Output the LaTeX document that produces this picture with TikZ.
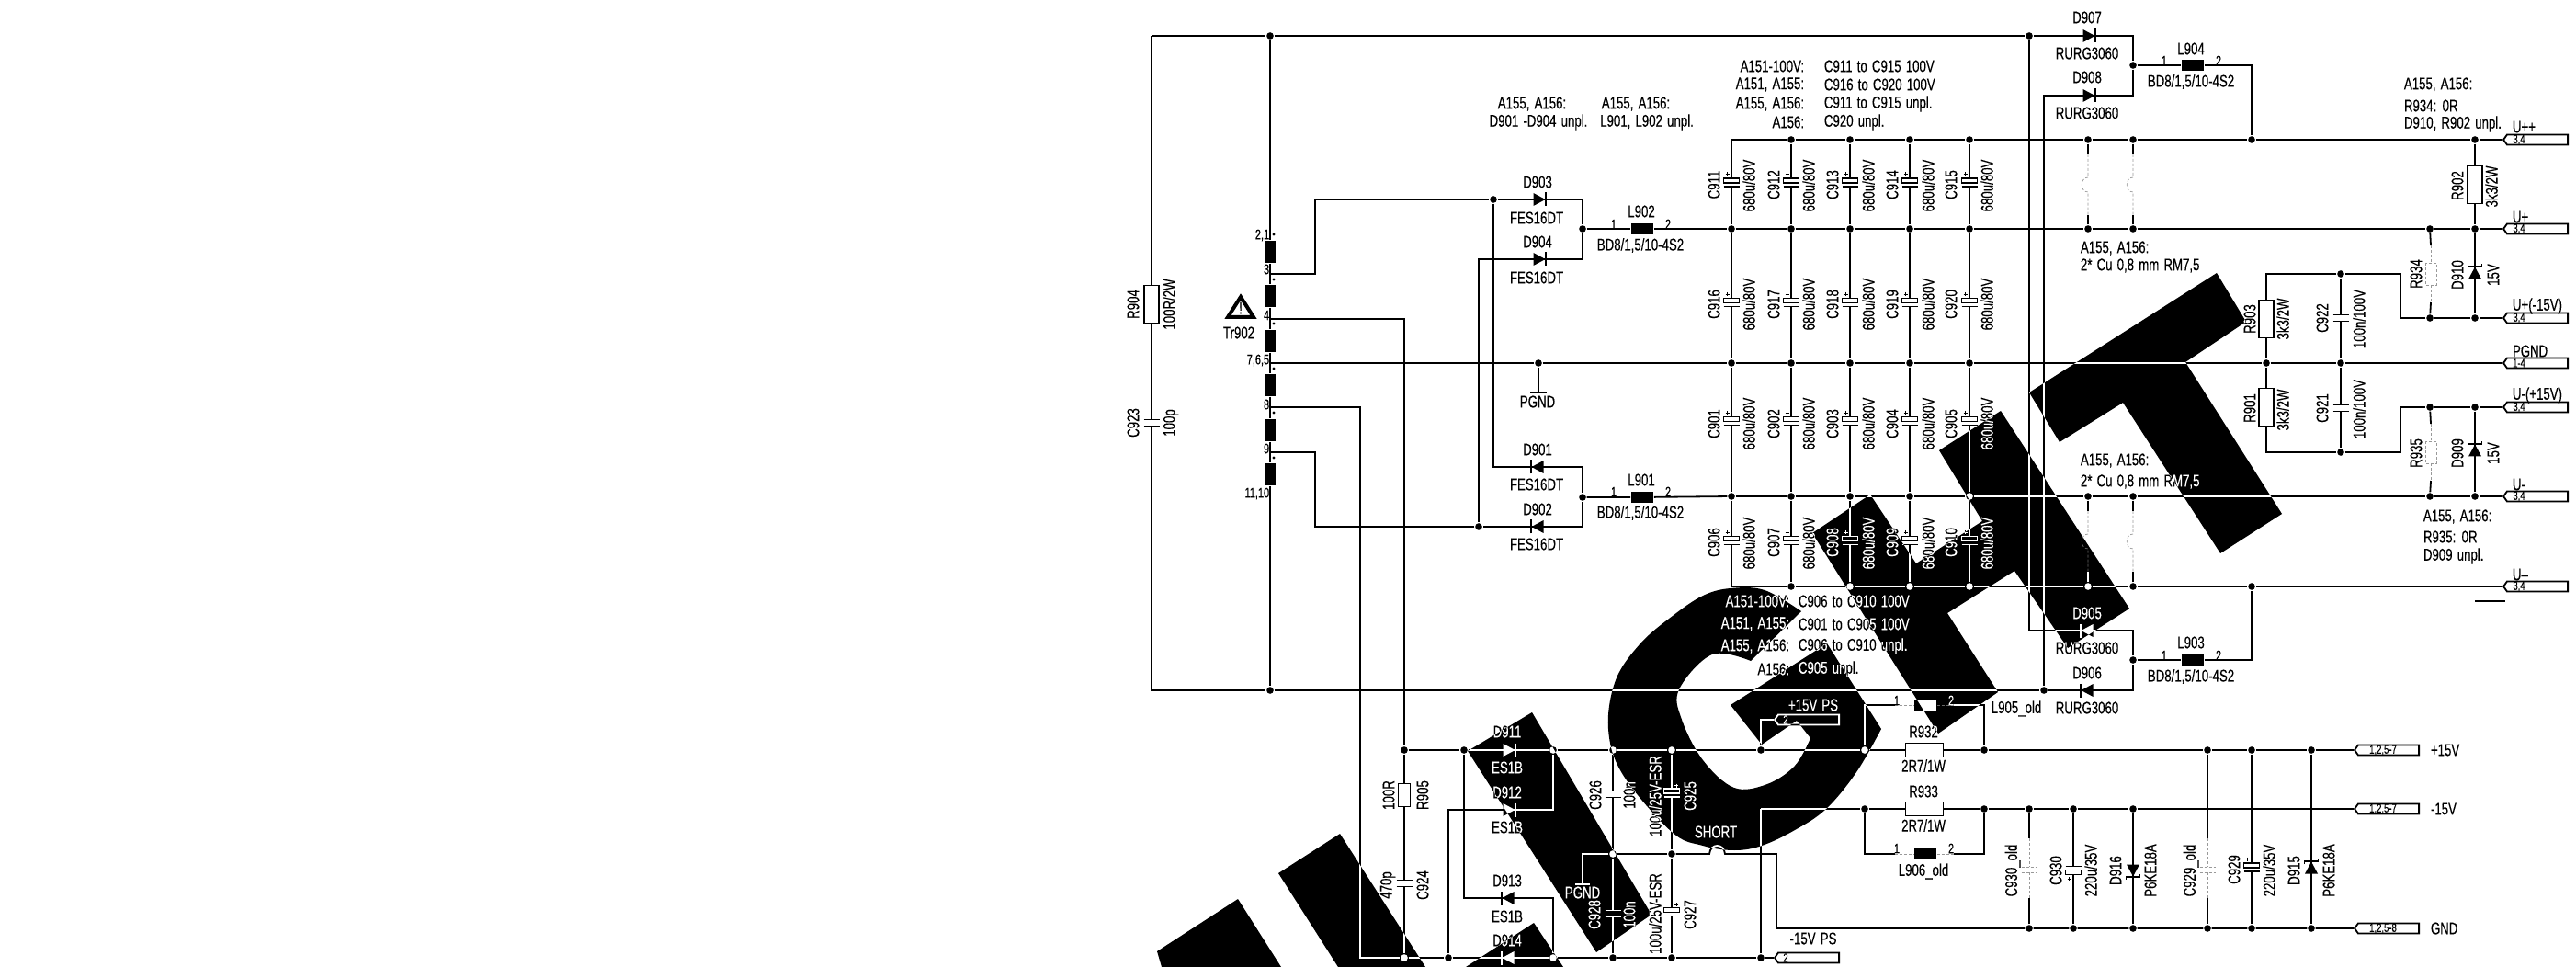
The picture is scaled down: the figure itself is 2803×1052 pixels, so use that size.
\documentclass[tikz,border=0pt]{standalone}
\usepackage{fontspec}
\setmainfont[FakeStretch=0.72,WordSpace=1.4,FakeBold=0.2]{Liberation Sans}
\usetikzlibrary{shapes.symbols}
\newcommand{\lblfont}{\fontsize{9.2}{10}\selectfont}
\newcommand{\numfont}{\fontsize{7.6}{8}\selectfont}
\newcommand{\pinfont}{\fontsize{6.6}{7}\selectfont}
\definecolor{pGhost}{gray}{0.6}
\tikzset{
    dot/.style={circle, fill=black, inner sep=0pt, minimum size=3.8pt},
    wdot/.style={circle, fill=black, inner sep=0pt, minimum size=1.6pt},
    lbl/.style={font=\lblfont, inner sep=0pt},
    lblv/.style={lbl, rotate=90},
    num/.style={font=\numfont, inner sep=0pt},
    pinl/.style={font=\pinfont, inner sep=0pt},
    resv/.style={rectangle, draw, fill=white, inner sep=0pt, minimum width=8pt, minimum height=20.5pt},
    resh/.style={rectangle, draw, fill=white, inner sep=0pt, minimum width=20.5pt, minimum height=7.5pt},
    ress/.style={rectangle, draw, fill=white, inner sep=0pt, minimum width=6.5pt, minimum height=12.5pt},
    ind/.style={rectangle, fill=black, inner sep=0pt, minimum width=12pt, minimum height=6pt},
    wnd/.style={rectangle, fill=black, inner sep=0pt, minimum width=6pt, minimum height=12pt},
    port/.style={signal, signal to=west, signal pointer angle=110, draw, fill=white, inner sep=0pt, minimum width=35pt, minimum height=5.5pt},
    ghost/.style={pGhost, line width=0.35pt, dash pattern=on 1.5pt off 1pt},
    diode/.pic={\fill (-6.5,-7)--(6.5,0)--(-6.5,7)--cycle; \draw (7,-7.5)--(7,7.5);},
    zener/.pic={\fill (-6.5,-7)--(6.5,0)--(-6.5,7)--cycle; \draw (4,-7.5)--(7,-7.5)--(7,7.5)--(10,7.5);},
    capn/.pic={\fill[white] (-8.5,-3.5) rectangle (8.5,3.5); \draw (-8.5,-3.5)--(8.5,-3.5) (-8.5,3.5)--(8.5,3.5);},
    capel/.pic={\fill[white] (-8.5,-4.5) rectangle (8.5,4.5); \draw[fill=white] (-8.5,-4.5) rectangle (8.5,0.5); \draw (-8.5,4.5)--(8.5,4.5); \draw[line width=0.4pt] (-6.5,-9)--(-2.5,-9) (-4.5,-11)--(-4.5,-7);},
    capelr/.pic={\fill[white] (-8.5,-4.5) rectangle (8.5,4.5); \draw[fill=white] (-8.5,-4.5) rectangle (8.5,0.5); \draw (-8.5,4.5)--(8.5,4.5); \draw[line width=0.4pt] (3,-8)--(7,-8) (5,-10)--(5,-6);},
    capelb/.pic={\fill[white] (-8.5,-4.5) rectangle (8.5,4.5); \draw[fill=white] (-8.5,-0.5) rectangle (8.5,4.5); \draw (-8.5,-4.5)--(8.5,-4.5); \draw[line width=0.4pt] (-6.5,9)--(-2.5,9) (-4.5,7)--(-4.5,11);},
    capold/.pic={\coordinate (-t) at (0,-34); \coordinate (-b) at (0,31); \draw[ghost] (0,-34)--(0,-3) (0,3)--(0,31) (-8.5,-3)--(8.5,-3) (-8.5,3)--(8.5,3);},
    culink/.pic={\coordinate (-t) at (0,-33); \coordinate (-b) at (0,33); \draw[ghost] (0,-33)--(0,-8) .. controls (-9,-8) and (-9,8) .. (0,8)--(0,33);},
    ghostres/.pic={\coordinate (-t) at (0,-31); \coordinate (-b) at (0,31); \draw[ghost] (0,-31)--(0,-12) (0,12)--(0,31) (-6,-12) rectangle (6,12);},
}
\begin{document}
\begin{tikzpicture}[x=0.5pt,y=-0.5pt,line width=0.9pt]
\useasboundingbox (0,0) rectangle (2803,1052);
\fill[white] (0,0) rectangle (2803,1052);
\node[dot] (tr) at (1382,39) {};
\node[dot] (td) at (2208,39) {};
\node[dot] (br) at (1382,751) {};
\node[dot] (bd) at (2224,751) {};
\node[dot] (f1) at (2321,71) {};
\node[dot] (f2) at (2321,718) {};
\node[dot] (j1) at (1722,249) {};
\node[dot] (j2) at (1722,541) {};
\node[dot] (j3) at (1625,217) {};
\node[dot] (j4) at (1609,573) {};
\node[dot] (pg0) at (1674,395) {};
\node[dot] (ua2) at (1949,152) {};
\node[dot] (ua3) at (2013,152) {};
\node[dot] (ua4) at (2078,152) {};
\node[dot] (ua5) at (2143,152) {};
\node[dot] (ua6) at (2272,152) {};
\node[dot] (ua7) at (2321,152) {};
\node[dot] (ua8) at (2450,152) {};
\node[dot] (ua9) at (2693,152) {};
\node[dot] (ub1) at (1884,249) {};
\node[dot] (ub2) at (1949,249) {};
\node[dot] (ub3) at (2013,249) {};
\node[dot] (ub4) at (2078,249) {};
\node[dot] (ub5) at (2143,249) {};
\node[dot] (ub6) at (2272,249) {};
\node[dot] (ub7) at (2321,249) {};
\node[dot] (ub8) at (2644,249) {};
\node[dot] (ub9) at (2693,249) {};
\node[dot] (pg1) at (1884,395) {};
\node[dot] (pg2) at (1949,395) {};
\node[dot] (pg3) at (2013,395) {};
\node[dot] (pg4) at (2078,395) {};
\node[dot] (pg5) at (2143,395) {};
\node[dot] (pg6) at (2466,395) {};
\node[dot] (pg7) at (2547,395) {};
\node[dot] (ud1) at (1884,540) {};
\node[dot] (ud2) at (1949,540) {};
\node[dot] (ud3) at (2013,540) {};
\node[dot] (ud4) at (2078,540) {};
\node[dot] (ud5) at (2143,540) {};
\node[dot] (ud6) at (2272,540) {};
\node[dot] (ud7) at (2321,540) {};
\node[dot] (ud8) at (2644,540) {};
\node[dot] (ud9) at (2693,540) {};
\node[dot] (ue2) at (1949,638) {};
\node[dot] (ue3) at (2013,638) {};
\node[dot] (ue4) at (2078,638) {};
\node[dot] (ue5) at (2143,638) {};
\node[dot] (ue6) at (2272,638) {};
\node[dot] (ue7) at (2321,638) {};
\node[dot] (ue8) at (2450,638) {};
\node[dot] (vt) at (2547,298) {};
\node[dot] (vb) at (2547,492) {};
\node[dot] (vf1) at (2644,346) {};
\node[dot] (vf2) at (2693,346) {};
\node[dot] (vg1) at (2644,443) {};
\node[dot] (vg2) at (2693,443) {};
\node[dot] (m1) at (1528,816) {};
\node[dot] (m2) at (1593,816) {};
\node[dot] (m3) at (1690,816) {};
\node[dot] (m4) at (1755,816) {};
\node[dot] (m5) at (1819,816) {};
\node[dot] (m6) at (1916,816) {};
\node[dot] (m7) at (2029,816) {};
\node[dot] (m8) at (2159,816) {};
\node[dot] (m9) at (2402,816) {};
\node[dot] (m10) at (2450,816) {};
\node[dot] (m11) at (2515,816) {};
\node[dot] (n2) at (1755,929) {};
\node[dot] (n3) at (1819,929) {};
\node[dot] (p1) at (2029,880) {};
\node[dot] (p2) at (2159,880) {};
\node[dot] (p3) at (2208,880) {};
\node[dot] (p4) at (2256,880) {};
\node[dot] (p5) at (2321,880) {};
\node[dot] (k1) at (1528,1042) {};
\node[dot] (k2) at (1576,1042) {};
\node[dot] (k3) at (1690,1042) {};
\node[dot] (k4) at (1755,1042) {};
\node[dot] (k5) at (1819,1042) {};
\node[dot] (k6) at (1916,1042) {};
\node[dot] (g1) at (2208,1010) {};
\node[dot] (g2) at (2256,1010) {};
\node[dot] (g3) at (2321,1010) {};
\node[dot] (g4) at (2402,1010) {};
\node[dot] (g5) at (2450,1010) {};
\node[dot] (g6) at (2515,1010) {};
\coordinate (cA) at (1253,39);
\coordinate (cB) at (1253,751);
\coordinate (cD7) at (2321,39);
\coordinate (cD8) at (2321,104);
\coordinate (cI8) at (2224,104);
\coordinate (cI5) at (2208,686);
\coordinate (cD5) at (2321,686);
\coordinate (cD6) at (2321,751);
\coordinate (cL4) at (2450,71);
\coordinate (cL3) at (2450,718);
\coordinate (ua1) at (1884,152);
\coordinate (ue1) at (1884,638);
\coordinate (tap3) at (1382,298);
\coordinate (tap4) at (1382,347);
\coordinate (tap7) at (1382,395);
\coordinate (tap8) at (1382,443);
\coordinate (tap9) at (1382,492);
\coordinate (cT3) at (1431,217);
\coordinate (cT4) at (1528,347);
\coordinate (cT8) at (1480,1042);
\coordinate (cT9) at (1431,573);
\coordinate (cD3) at (1722,217);
\coordinate (cD4) at (1722,282);
\coordinate (cD1) at (1722,508);
\coordinate (cD2) at (1722,573);
\coordinate (cI4) at (1609,282);
\coordinate (cI1) at (1625,508);
\coordinate (cR1) at (2466,298);
\coordinate (cR2) at (2612,298);
\coordinate (cR3) at (2612,346);
\coordinate (cR4) at (2466,492);
\coordinate (cR5) at (2612,492);
\coordinate (cR6) at (2612,443);
\coordinate (cM1) at (1593,977);
\coordinate (cM2) at (1690,977);
\coordinate (cM3) at (1690,881);
\coordinate (cM4) at (1576,881);
\coordinate (cN1) at (1722,929);
\coordinate (cN2) at (1722,962);
\coordinate (cS1) at (1860,929);
\coordinate (cS2) at (1877,929);
\coordinate (cS3) at (1933,929);
\coordinate (cS4) at (1933,1010);
\coordinate (cP1) at (1916,783);
\coordinate (cP2) at (1916,880);
\coordinate (cL5) at (2029,767);
\coordinate (cL6) at (2159,767);
\coordinate (sL5) at (2062,767);
\coordinate (eL5) at (2126,767);
\coordinate (cL7) at (2029,929);
\coordinate (cL8) at (2159,929);
\coordinate (sL6) at (2062,929);
\coordinate (eL6) at (2126,929);
\coordinate (ovA) at (2693,654);
\coordinate (ovB) at (2726,654);
\coordinate (gA) at (1665,427);
\coordinate (gM) at (1674,427);
\coordinate (gB) at (1683,427);
\coordinate (gC) at (1714,962);
\coordinate (gD) at (1730,962);
\coordinate (D901) at (1673,508);
\coordinate (D902) at (1673,573);
\coordinate (D903) at (1675,217);
\coordinate (D904) at (1675,282);
\coordinate (D905) at (2271,686);
\coordinate (D906) at (2271,751);
\coordinate (D907) at (2273,39);
\coordinate (D908) at (2273,104);
\coordinate (D909) at (2693,490);
\coordinate (D910) at (2693,297);
\coordinate (D911) at (1642,816);
\coordinate (D912) at (1642,881);
\coordinate (D913) at (1641,977);
\coordinate (D914) at (1641,1042);
\coordinate (D915) at (2515,944);
\coordinate (D916) at (2321,947);
\node[wnd] (W1) at (1382,274) {};
\node[wnd] (W2) at (1382,322) {};
\node[wnd] (W3) at (1382,371) {};
\node[wnd] (W4) at (1382,419) {};
\node[wnd] (W5) at (1382,468) {};
\node[wnd] (W6) at (1382,516) {};
\node[resv] (R904) at (1253,331) {};
\node[resv] (R902) at (2693,201) {};
\node[resv] (R903) at (2466,347) {};
\node[resv] (R901) at (2466,443) {};
\node[ress] (R905) at (1528,865) {};
\node[resh] (R932) at (2094,816) {};
\node[resh] (R933) at (2094,880) {};
\node[ind] (L901) at (1787,541) {};
\node[ind] (L902) at (1787,249) {};
\node[ind] (L903) at (2386,718) {};
\node[ind] (L904) at (2386,71) {};
\node[ind] (L905) at (2095,767) {};
\node[ind] (L906) at (2095,929) {};
\node[port] (pUaa) at (2761,152) {};
\node[port] (pUa) at (2761,249) {};
\node[port] (pUf) at (2761,346) {};
\node[port] (pPG) at (2761,395) {};
\node[port] (pUg) at (2761,443) {};
\node[port] (pUb) at (2761,540) {};
\node[port] (pUbb) at (2761,638) {};
\node[port] (pP15) at (2599,816) {};
\node[port] (pM15) at (2599,880) {};
\node[port] (pGND) at (2599,1010) {};
\node[port] (pPS) at (1968,783) {};
\node[port] (pMS) at (1968,1042) {};
\draw (cA) -- (tr) -- (td) -- (D907) -- (cD7) -- (f1) -- (cD8) -- (D908) -- (cI8) -- (bd);
\draw (cA) -- (R904) -- (cB) -- (br) -- (bd) -- (D906) -- (cD6) -- (f2) -- (cD5) -- (D905) -- (cI5) -- (td);
\draw (tr) -- (W1) -- (W2) -- (W3) -- (W4) -- (W5) -- (W6) -- (br);
\draw (f1) -- (L904) -- (cL4) -- (ua8);
\draw (f2) -- (L903) -- (cL3) -- (ue8);
\draw (tap3) -| (cT3) -- (j3) -- (D903) -- (cD3) -- (j1) -- (cD4) -- (D904) -- (cI4) -- (j4);
\draw (j3) -- (cI1) -- (D901) -- (cD1) -- (j2) -- (cD2) -- (D902) -- (j4) -- (cT9) |- (tap9);
\draw (tap4) -- (cT4) -- (m1);
\draw (tap8) -| (cT8) -- (k1);
\draw (j1) -- (L902) -- (ub1);
\draw (j2) -- (L901) -- (ud1);
\draw (ua1) -- (ua2) -- (ua3) -- (ua4) -- (ua5) -- (ua6) -- (ua7) -- (ua8) -- (ua9) -- (pUaa);
\draw (ub1) -- (ub2) -- (ub3) -- (ub4) -- (ub5) -- (ub6) -- (ub7) -- (ub8) -- (ub9) -- (pUa);
\draw (tap7) -- (pg0) -- (pg1) -- (pg2) -- (pg3) -- (pg4) -- (pg5) -- (pg6) -- (pg7) -- (pPG);
\draw (ud1) -- (ud2) -- (ud3) -- (ud4) -- (ud5) -- (ud6) -- (ud7) -- (ud8) -- (ud9) -- (pUb);
\draw (ue1) -- (ue2) -- (ue3) -- (ue4) -- (ue5) -- (ue6) -- (ue7) -- (ue8) -- (pUbb);
\draw (ua1) -- (ub1) -- (pg1) -- (ud1) -- (ue1);
\draw (ua2) -- (ub2) -- (pg2) -- (ud2) -- (ue2);
\draw (ua3) -- (ub3) -- (pg3) -- (ud3) -- (ue3);
\draw (ua4) -- (ub4) -- (pg4) -- (ud4) -- (ue4);
\draw (ua5) -- (ub5) -- (pg5) -- (ud5) -- (ue5);
\draw (pg0) -- (gM);
\draw (gA) -- (gB);
\draw (ua9) -- (R902) -- (ub9) -- (D910) -- (vf2);
\draw (pUf) -- (vf2) -- (vf1) -- (cR3) -- (cR2) -- (vt) -- (cR1) -- (R903) -- (pg6) -- (R901) -- (cR4) -- (vb) -- (cR5) -- (cR6) -- (vg1) -- (vg2) -- (pUg);
\draw (vt) -- (pg7) -- (vb);
\draw (vg2) -- (D909) -- (ud9);
\draw (ovA) -- (ovB);
\draw (m1) -- (R905) -- (k1);
\draw (m1) -- (m2) -- (D911) -- (m3) -- (m4) -- (m5) -- (m6) -- (m7) -- (R932) -- (m8) -- (m9) -- (m10) -- (m11) -- (pP15);
\draw (m2) -- (cM1) -- (D913) -- (cM2) -- (k3);
\draw (m3) -- (cM3) -- (D912) -- (cM4) -- (k2);
\draw (cT8) -- (k1) -- (k2) -- (D914) -- (k3) -- (k4) -- (k5) -- (k6) -- (pMS);
\draw (m4) -- (n2) -- (k4);
\draw (m5) -- (n3) -- (k5);
\draw (gC) -- (gD);
\draw (n3) -- (n2) -- (cN1) -- (cN2);
\draw (n3) -- (cS1) .. controls (1861,917) and (1876,917) .. (cS2) -- (cS3) -- (cS4) -- (g1) -- (g2) -- (g3) -- (g4) -- (g5) -- (g6) -- (pGND);
\draw (m6) -- (cP1) -- (pPS);
\draw (cP2) -- (k6);
\draw (cP2) -- (p1) -- (R933) -- (p2) -- (p3) -- (p4) -- (p5) -- (pM15);
\draw (m7) -- (cL5) -- (sL5);
\draw (eL5) -- (cL6) -- (m8);
\draw (p1) -- (cL7) -- (sL6);
\draw (eL6) -- (cL8) -- (p2);
\draw[ghost] (sL5) -- (L905) -- (eL5);
\draw[ghost] (sL6) -- (L906) -- (eL6);
\draw (p4) -- (g2);
\draw (p5) -- (D916) -- (g3);
\draw (m10) -- (g5);
\draw (m11) -- (D915) -- (g6);
\pic (lkA) at (2272,201) {culink};
\pic (lkB) at (2321,201) {culink};
\pic (lkC) at (2272,589) {culink};
\pic (lkD) at (2321,589) {culink};
\draw (ua6) -- (lkA-t);
\draw (ub6) -- (lkA-b);
\draw (ua7) -- (lkB-t);
\draw (ub7) -- (lkB-b);
\draw (ud6) -- (lkC-t);
\draw (ue6) -- (lkC-b);
\draw (ud7) -- (lkD-t);
\draw (ue7) -- (lkD-b);
\pic (gR934) at (2645,298) {ghostres};
\pic (gR935) at (2645,492) {ghostres};
\draw (ub8) -- (gR934-t);
\draw (vf1) -- (gR934-b);
\draw (vg1) -- (gR935-t);
\draw (ud8) -- (gR935-b);
\pic (oC930) at (2208,946) {capold};
\pic (oC929) at (2402,946) {capold};
\draw (p3) -- (oC930-t);
\draw (g1) -- (oC930-b);
\draw (m9) -- (oC929-t);
\draw (g4) -- (oC929-b);
\pic at (D901) [rotate=180] {diode};
\pic at (D902) [rotate=180] {diode};
\pic at (D903) {diode};
\pic at (D904) {diode};
\pic at (D905) [rotate=180] {diode};
\pic at (D906) [rotate=180] {diode};
\pic at (D907) {diode};
\pic at (D908) {diode};
\pic at (D909) [rotate=90] {zener};
\pic at (D910) [rotate=90] {zener};
\pic at (D911) {diode};
\pic at (D912) {diode};
\pic at (D913) [rotate=180] {diode};
\pic at (D914) [rotate=180] {diode};
\pic at (D915) [rotate=90] {zener};
\pic at (D916) [rotate=-90] {zener};
\pic at (1253,460) {capn};
\pic at (1528,961) {capn};
\pic at (1755,864) {capn};
\pic at (1755,994) {capn};
\pic at (2547,346) {capn};
\pic at (2547,444) {capn};
\pic at (1819,862.5) {capelr};
\pic at (1819,992) {capelr};
\pic at (2256,947) {capelb};
\pic at (2450,943.5) {capel};
\pic at (1884,198.5) {capel};
\pic at (1949,198.5) {capel};
\pic at (2013,198.5) {capel};
\pic at (2078,198.5) {capel};
\pic at (2143,198.5) {capel};
\pic at (1884,329) {capel};
\pic at (1949,329) {capel};
\pic at (2013,329) {capel};
\pic at (2078,329) {capel};
\pic at (2143,329) {capel};
\pic at (1884,458) {capel};
\pic at (1949,458) {capel};
\pic at (2013,458) {capel};
\pic at (2078,458) {capel};
\pic at (2143,458) {capel};
\pic at (1884,588) {capel};
\pic at (1949,588) {capel};
\pic at (2013,588) {capel};
\pic at (2078,588) {capel};
\pic at (2143,588) {capel};
\node[wdot] (wd1) at (1386,255) {};
\node[wdot] (wd2) at (1386,304) {};
\node[wdot] (wd3) at (1386,352) {};
\node[wdot] (wd4) at (1386,401) {};
\node[wdot] (wd5) at (1386,449) {};
\node[wdot] (wd6) at (1386,498) {};
\node[num,anchor=east] (n21) at (1382,256) {2,1};
\node[num,anchor=east] (n3t) at (1382,293) {3};
\node[num,anchor=east] (n4t) at (1382,343) {4};
\node[num,anchor=east] (n765) at (1382,392) {7,6,5};
\node[num,anchor=east] (n8t) at (1382,440) {8};
\node[num,anchor=east] (n9t) at (1382,488) {9};
\node[num,anchor=east] (n1110) at (1382,537) {11,10};
\draw[line width=2pt] (1350,323)--(1364,345)--(1336,345)--cycle;
\node[lbl] (warn) at (1350,335) {!};
\node[lbl] (tTr) at (1348,362) {Tr902};
\node[lblv] (tR904) at (1233,331) {R904};
\node[lblv] (vR904) at (1272,331) {100R/2W};
\node[lblv] (tC923) at (1233,460) {C923};
\node[lblv] (vC923) at (1274,460) {100p};
\node[lbl] (t1a) at (1667,113) {A155, A156:};
\node[lbl] (t1b) at (1674,133) {D901 -D904 unpl.};
\node[lbl] (t2a) at (1780,113) {A155, A156:};
\node[lbl] (t2b) at (1792,133) {L901, L902 unpl.};
\node[lbl] (tD903) at (1673,198) {D903};
\node[lbl] (vD903) at (1672,237) {FES16DT};
\node[lbl] (tD904) at (1673,263) {D904};
\node[lbl] (vD904) at (1672,302) {FES16DT};
\node[lbl] (tD901) at (1673,489) {D901};
\node[lbl] (vD901) at (1672,527) {FES16DT};
\node[lbl] (tD902) at (1673,554) {D902};
\node[lbl] (vD902) at (1672,592) {FES16DT};
\node[lbl] (tPG1) at (1673,437) {PGND};
\node[lbl] (tL902) at (1786,230) {L902};
\node[num] (n1L2) at (1756,244) {1};
\node[num] (n2L2) at (1815,244) {2};
\node[lbl] (vL902) at (1785,267) {BD8/1,5/10-4S2};
\node[lbl] (tL901) at (1786,522) {L901};
\node[num] (n1L1) at (1756,535) {1};
\node[num] (n2L1) at (1815,535) {2};
\node[lbl] (vL901) at (1785,558) {BD8/1,5/10-4S2};
\node[lbl,anchor=east] (t3a) at (1964,72) {A151-100V:};
\node[lbl,anchor=east] (t3b) at (1964,92) {A151, A155:};
\node[lbl,anchor=east] (t3c) at (1964,113) {A155, A156:};
\node[lbl,anchor=east] (t3d) at (1964,133) {A156:};
\node[lbl,anchor=west] (t4a) at (1984,72) {C911 to C915 100V};
\node[lbl,anchor=west] (t4b) at (1984,92) {C916 to C920 100V};
\node[lbl,anchor=west] (t4c) at (1984,113) {C911 to C915 unpl.};
\node[lbl,anchor=west] (t4d) at (1984,133) {C920 unpl.};
\node[lblv] (tC911) at (1865,201) {C911};
\node[lblv] (vC911) at (1903,202) {680u/80V};
\node[lblv] (tC912) at (1930,201) {C912};
\node[lblv] (vC912) at (1968,202) {680u/80V};
\node[lblv] (tC913) at (1994,201) {C913};
\node[lblv] (vC913) at (2033,202) {680u/80V};
\node[lblv] (tC914) at (2059,201) {C914};
\node[lblv] (vC914) at (2098,202) {680u/80V};
\node[lblv] (tC915) at (2123,201) {C915};
\node[lblv] (vC915) at (2162,202) {680u/80V};
\node[lblv] (tC916) at (1865,331) {C916};
\node[lblv] (vC916) at (1903,331) {680u/80V};
\node[lblv] (tC917) at (1930,331) {C917};
\node[lblv] (vC917) at (1968,331) {680u/80V};
\node[lblv] (tC918) at (1994,331) {C918};
\node[lblv] (vC918) at (2033,331) {680u/80V};
\node[lblv] (tC919) at (2059,331) {C919};
\node[lblv] (vC919) at (2098,331) {680u/80V};
\node[lblv] (tC920) at (2123,331) {C920};
\node[lblv] (vC920) at (2162,331) {680u/80V};
\node[lblv] (tC901) at (1865,461) {C901};
\node[lblv] (vC901) at (1903,461) {680u/80V};
\node[lblv] (tC902) at (1930,461) {C902};
\node[lblv] (vC902) at (1968,461) {680u/80V};
\node[lblv] (tC903) at (1994,461) {C903};
\node[lblv] (vC903) at (2033,461) {680u/80V};
\node[lblv] (tC904) at (2059,461) {C904};
\node[lblv] (vC904) at (2098,461) {680u/80V};
\node[lblv] (tC905) at (2123,461) {C905};
\node[lblv] (vC905) at (2162,461) {680u/80V};
\node[lblv] (tC906) at (1865,590) {C906};
\node[lblv] (vC906) at (1903,591) {680u/80V};
\node[lblv] (tC907) at (1930,590) {C907};
\node[lblv] (vC907) at (1968,591) {680u/80V};
\node[lblv] (tC908) at (1994,590) {C908};
\node[lblv] (vC908) at (2033,591) {680u/80V};
\node[lblv] (tC909) at (2059,590) {C909};
\node[lblv] (vC909) at (2098,591) {680u/80V};
\node[lblv] (tC910) at (2123,590) {C910};
\node[lblv] (vC910) at (2162,591) {680u/80V};
\node[lbl,anchor=east] (t5a) at (1948,654) {A151-100V:};
\node[lbl,anchor=east] (t5b) at (1948,679) {A151, A155:};
\node[lbl,anchor=east] (t5c) at (1948,703) {A155, A156:};
\node[lbl,anchor=east] (t5d) at (1948,728) {A156:};
\node[lbl,anchor=west] (t6a) at (1956,654) {C906 to C910 100V};
\node[lbl,anchor=west] (t6b) at (1956,679) {C901 to C905 100V};
\node[lbl,anchor=west] (t6c) at (1956,703) {C906 to C910 unpl.};
\node[lbl,anchor=west] (t6d) at (1956,728) {C905 unpl.};
\node[lbl] (tD907) at (2271,19) {D907};
\node[lbl] (vD907) at (2271,58) {RURG3060};
\node[lbl] (tD908) at (2271,84) {D908};
\node[lbl] (vD908) at (2271,123) {RURG3060};
\node[lbl] (tD905) at (2271,667) {D905};
\node[lbl] (vD905) at (2271,705) {RURG3060};
\node[lbl] (tD906) at (2271,732) {D906};
\node[lbl] (vD906) at (2271,770) {RURG3060};
\node[lbl] (tL904) at (2384,53) {L904};
\node[num] (n1L4) at (2355,66) {1};
\node[num] (n2L4) at (2414,66) {2};
\node[lbl] (vL904) at (2384,89) {BD8/1,5/10-4S2};
\node[lbl] (tL903) at (2384,699) {L903};
\node[num] (n1L3) at (2355,713) {1};
\node[num] (n2L3) at (2414,713) {2};
\node[lbl] (vL903) at (2384,736) {BD8/1,5/10-4S2};
\node[lbl,anchor=west] (t7a) at (2263,270) {A155, A156:};
\node[lbl,anchor=west] (t7b) at (2263,289) {2* Cu 0,8 mm RM7,5};
\node[lbl,anchor=west] (t8a) at (2263,501) {A155, A156:};
\node[lbl,anchor=west] (t8b) at (2263,524) {2* Cu 0,8 mm RM7,5};
\node[lbl,anchor=west] (t9a) at (2615,92) {A155, A156:};
\node[lbl,anchor=west] (t9b) at (2615,115) {R934: 0R};
\node[lbl,anchor=west] (t9c) at (2615,135) {D910, R902 unpl.};
\node[lbl,anchor=west] (t10a) at (2636,562) {A155, A156:};
\node[lbl,anchor=west] (t10b) at (2636,584) {R935: 0R};
\node[lbl,anchor=west] (t10c) at (2636,605) {D909 unpl.};
\node[lblv] (tR902) at (2674,202) {R902};
\node[lblv] (vR902) at (2711,203) {3k3/2W};
\node[lblv] (tR903) at (2448,347) {R903};
\node[lblv] (vR903) at (2484,347) {3k3/2W};
\node[lblv] (tR901) at (2448,444) {R901};
\node[lblv] (vR901) at (2484,446) {3k3/2W};
\node[lblv] (tC922) at (2527,346) {C922};
\node[lblv] (vC922) at (2567,347) {100n/100V};
\node[lblv] (tC921) at (2527,444) {C921};
\node[lblv] (vC921) at (2567,445) {100n/100V};
\node[lblv] (tR934) at (2629,298) {R934};
\node[lblv] (tR935) at (2629,493) {R935};
\node[lblv] (tD910) at (2674,299) {D910};
\node[lblv] (vD910) at (2713,299) {15V};
\node[lblv] (tD909) at (2674,493) {D909};
\node[lblv] (vD909) at (2713,493) {15V};
\node[lbl,anchor=west] (lUaa) at (2733,138) {U++};
\node[lbl,anchor=west] (lUa) at (2733,236) {U+};
\node[lbl,anchor=west] (lUf) at (2733,333) {U+(-15V)};
\node[lbl,anchor=west] (lPG) at (2733,382) {PGND};
\node[lbl,anchor=west] (lUg) at (2733,430) {U-(+15V)};
\node[lbl,anchor=west] (lUb) at (2733,527) {U-};
\node[lbl,anchor=west] (lUbb) at (2733,625) {U--};
\node[pinl] (iUaa) at (2741,152) {3,4};
\node[pinl] (iUa) at (2741,249) {3,4};
\node[pinl] (iUf) at (2741,346) {3,4};
\node[pinl] (iPG) at (2741,395) {1-4};
\node[pinl] (iUg) at (2741,443) {3,4};
\node[pinl] (iUb) at (2741,540) {3,4};
\node[pinl] (iUbb) at (2741,638) {3,4};
\node[pinl] (iP15) at (2593,816) {1,2,5-7};
\node[pinl] (iM15) at (2593,880) {1,2,5-7};
\node[pinl] (iGND) at (2593,1010) {1,2,5-8};
\node[pinl] (iPS) at (1943,783) {2};
\node[pinl] (iMS) at (1943,1042) {2};
\node[lbl,anchor=west] (lP15) at (2644,816) {+15V};
\node[lbl,anchor=west] (lM15) at (2644,880) {-15V};
\node[lbl,anchor=west] (lGND) at (2644,1010) {GND};
\node[lbl] (lPS) at (1973,767) {+15V PS};
\node[lbl] (lMS) at (1973,1021) {-15V PS};
\node[lblv] (tR905) at (1548,865) {R905};
\node[lblv] (vR905) at (1511,865) {100R};
\node[lblv] (tC924) at (1548,963) {C924};
\node[lblv] (vC924) at (1510,963) {470p};
\node[lbl] (tD911) at (1640,796) {D911};
\node[lbl] (vD911) at (1640,835) {ES1B};
\node[lbl] (tD912) at (1640,862) {D912};
\node[lbl] (vD912) at (1640,900) {ES1B};
\node[lbl] (tD913) at (1640,958) {D913};
\node[lbl] (vD913) at (1640,997) {ES1B};
\node[lbl] (tD914) at (1640,1023) {D914};
\node[lbl] (tPG2) at (1722,971) {PGND};
\node[lblv] (tC926) at (1736,865) {C926};
\node[lblv] (vC926) at (1773,865) {100n};
\node[lblv] (tC928) at (1735,995) {C928};
\node[lblv] (vC928) at (1773,995) {100n};
\node[lblv] (vC925) at (1801,866) {100u/25V-ESR};
\node[lblv] (tC925) at (1839,866) {C925};
\node[lblv] (vC927) at (1801,994) {100u/25V-ESR};
\node[lblv] (tC927) at (1839,995) {C927};
\node[lbl] (tSH) at (1867,905) {SHORT};
\node[lbl] (tL905) at (2194,771) {L905\_old};
\node[num] (n1L5) at (2064,762) {1};
\node[num] (n2L5) at (2123,762) {2};
\node[lbl] (tR932) at (2093,796) {R932};
\node[lbl] (vR932) at (2093,833) {2R7/1W};
\node[lbl] (tR933) at (2093,861) {R933};
\node[lbl] (vR933) at (2093,898) {2R7/1W};
\node[lbl] (tL906) at (2093,948) {L906\_old};
\node[num] (n1L6) at (2064,923) {1};
\node[num] (n2L6) at (2123,923) {2};
\node[lblv] (tC930o) at (2190,947) {C930\_old};
\node[lblv] (tC930) at (2237,947) {C930};
\node[lblv] (vC930) at (2275,947) {220u/35V};
\node[lblv] (tD916) at (2302,947) {D916};
\node[lblv] (vD916) at (2340,947) {P6KE18A};
\node[lblv] (tC929o) at (2384,947) {C929\_old};
\node[lblv] (tC929) at (2431,946) {C929};
\node[lblv] (vC929) at (2469,947) {220u/35V};
\node[lblv] (tD915) at (2496,947) {D915};
\node[lblv] (vD915) at (2534,947) {P6KE18A};
\fill[white,blend mode=difference] (2208,427)--(2412,297)--(2444,350)--(2378,394)--(2483,559)--(2416,602)--(2310,438)--(2241,481)--cycle;
\fill[white,blend mode=difference] (2110,490)--(2177,447)--(2317,662)--(2250,705)--(2192,621)--(2119,667)--(2174,753)--(2109,798)--(1972,580)--(2035,538)--(2085,613)--(2157,567)--cycle;
\fill[white,blend mode=difference] (1960,665)--plot[smooth,tension=0.6] coordinates {(1960,665) (1920,642) (1883,640) (1853,648) (1820,670) (1785,700) (1758,740) (1750,793) (1766,843) (1819,905) (1853,920) (1887,925) (1917,920) (1953,903) (1987,880) (2020,840) (2047,793)}--(1988,700)--(1883,767)--(1917,810)--(1955,784)--(1970,803)--plot[smooth,tension=0.6] coordinates {(1970,803) (1953,833) (1923,853) (1887,857) (1853,827) (1830,783) (1827,750) (1863,712) (1905,719)}--cycle;
\fill[white,blend mode=difference] (1667,775)--(1597,817)--(1737,1036)--(1797,995)--cycle;
\fill[white,blend mode=difference] (1669,1004)--(1595,1052)--(1701,1052)--cycle;
\fill[white,blend mode=difference] (1458,907)--(1391,950)--(1456,1052)--(1551,1052)--cycle;
\fill[white,blend mode=difference] (1347,978)--(1259,1035)--(1264,1052)--(1394,1052)--cycle;
\end{tikzpicture}
\end{document}
